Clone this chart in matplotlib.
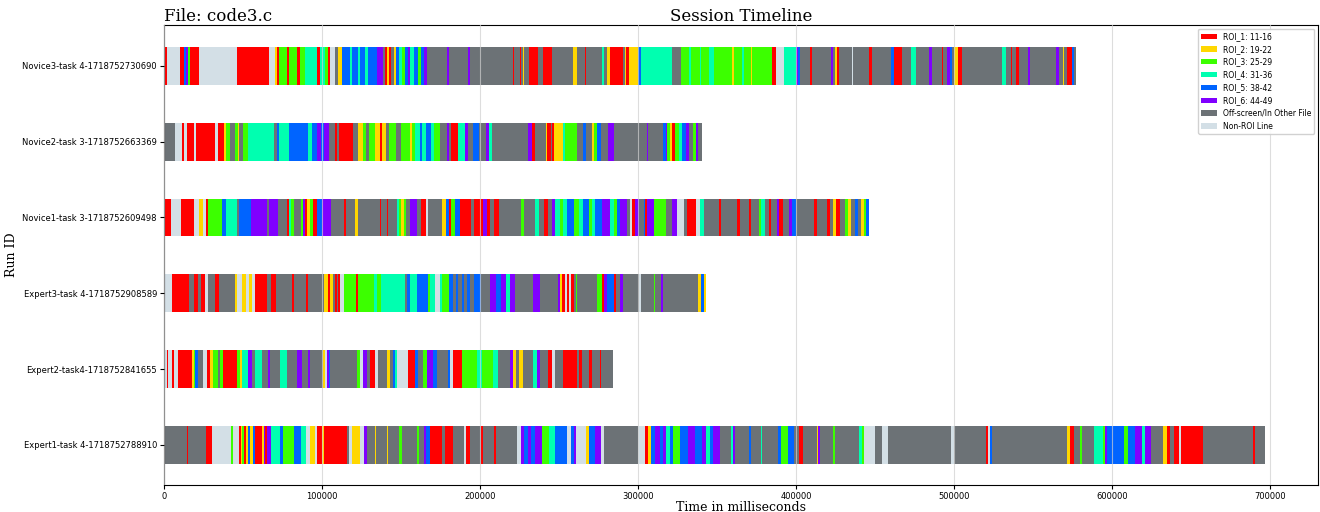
import matplotlib
matplotlib.use("Agg")
import matplotlib.pyplot as plt
from matplotlib.patches import Patch

# run ids, bottom to top
run_ids = ["Expert1-task 4-1718752788910", "Expert2-task4-1718752841655",
           "Expert3-task 4-1718752908589", "Novice1-task 3-1718752609498",
           "Novice2-task 3-1718752663369", "Novice3-task 4-1718752730690"]

roi_codes = ["R", "Y", "G", "C", "B", "P", "O", "N"]
roi_labels = ["ROI_1: 11-16", "ROI_2: 19-22", "ROI_3: 25-29", "ROI_4: 31-36",
              "ROI_5: 38-42", "ROI_6: 44-49", "Off-screen/In Other File", "Non-ROI Line"]
roi_colors = ["#ff0000", "#ffd700", "#3cff00", "#00ffb0",
              "#0064ff", "#8000ff", "#6c7276", "#d3dfe6"]

# each run: (end time in ms, region) -- segments follow each other from 0
novice3 = [(1900, 'R'), (10100, 'N'), (12600, 'R'), (13900, 'B'), (15200, 'P'), (16400, 'G'),
           (22100, 'R'), (46100, 'N'), (66400, 'R'), (70200, 'N'), (71400, 'Y'), (72700, 'R'),
           (77700, 'G'), (79000, 'R'), (84100, 'G'), (86000, 'R'), (89100, 'G'), (96700, 'C'),
           (98600, 'R'), (101800, 'C'), (103600, 'G'), (104900, 'R'), (108100, 'N'), (110000, 'O'),
           (112500, 'Y'), (117600, 'B'), (118800, 'C'), (122600, 'B'), (123900, 'C'), (127000, 'B'),
           (128900, 'C'), (134600, 'B'), (138400, 'P'), (139700, 'O'), (140900, 'R'), (142200, 'Y'),
           (143500, 'R'), (145400, 'O'), (146600, 'Y'), (148500, 'B'), (150400, 'C'), (152300, 'G'),
           (154200, 'B'), (155500, 'P'), (158000, 'C'), (160500, 'B'), (162400, 'G'), (164300, 'B'),
           (166200, 'P'), (178900, 'O'), (180100, 'P'), (192100, 'O'), (193400, 'P'), (220600, 'O'),
           (221200, 'R'), (225000, 'O'), (225600, 'R'), (226900, 'O'), (227500, 'Y'), (230700, 'O'),
           (236400, 'R'), (239500, 'O'), (245800, 'R'), (258500, 'O'), (261000, 'Y'), (266100, 'O'),
           (267300, 'R'), (277400, 'O'), (278100, 'C'), (280000, 'O'), (281900, 'Y'), (290100, 'R'),
           (291400, 'O'), (292600, 'Y'), (293900, 'R'), (299600, 'Y'), (301500, 'B'), (321100, 'C'),
           (327400, 'O'), (332400, 'G'), (333700, 'C'), (338800, 'G'), (340000, 'C'), (345100, 'G'),
           (348200, 'C'), (359600, 'G'), (360900, 'Y'), (365900, 'G'), (367200, 'C'), (371600, 'G'),
           (372200, 'Y'), (384900, 'G'), (387400, 'R'), (392500, 'N'), (400100, 'C'), (401300, 'P'),
           (402600, 'B'), (408900, 'O'), (410200, 'R'), (422200, 'O'), (423400, 'P'), (424700, 'O'),
           (426000, 'Y'), (427200, 'R'), (435400, 'O'), (436100, 'N'), (446200, 'O'), (448100, 'R'),
           (460100, 'O'), (462000, 'B'), (467000, 'R'), (472700, 'O'), (475900, 'C'), (484100, 'O'),
           (486000, 'P'), (492300, 'O'), (493000, 'R'), (495500, 'O'), (497400, 'P'), (498600, 'B'),
           (499900, 'O'), (502400, 'Y'), (505000, 'R'), (530200, 'O'), (532800, 'C'), (535900, 'O'),
           (536600, 'R'), (539100, 'O'), (541000, 'R'), (546700, 'O'), (547900, 'P'), (564400, 'O'),
           (566300, 'P'), (568800, 'O'), (569400, 'Y'), (571300, 'O'), (574500, 'R'), (575800, 'B'),
           (577000, 'O')]

novice2 = [(7000, 'O'), (11400, 'N'), (12600, 'R'), (14500, 'N'), (19000, 'R'), (20200, 'N'),
           (32200, 'R'), (34100, 'N'), (37900, 'R'), (39200, 'Y'), (41700, 'G'), (44900, 'O'),
           (46800, 'G'), (47400, 'Y'), (49900, 'O'), (53100, 'G'), (69500, 'C'), (71400, 'O'),
           (72700, 'B'), (79000, 'C'), (91000, 'B'), (93500, 'C'), (96700, 'B'), (99200, 'P'),
           (101100, 'B'), (104300, 'P'), (108100, 'O'), (109400, 'R'), (110600, 'O'), (119400, 'R'),
           (122600, 'O'), (125800, 'Y'), (127700, 'G'), (129600, 'O'), (133400, 'G'), (136500, 'Y'),
           (137800, 'R'), (140300, 'Y'), (142200, 'O'), (146600, 'G'), (149800, 'O'), (155500, 'G'),
           (156800, 'Y'), (158600, 'G'), (161800, 'C'), (163100, 'B'), (165600, 'C'), (168700, 'B'),
           (170700, 'C'), (174400, 'G'), (178900, 'O'), (180100, 'P'), (181400, 'O'), (185800, 'R'),
           (190200, 'C'), (192100, 'P'), (195300, 'O'), (199100, 'B'), (203500, 'O'), (205400, 'P'),
           (207300, 'C'), (230000, 'O'), (232600, 'P'), (234500, 'R'), (241400, 'O'), (242100, 'Y'),
           (244600, 'R'), (245300, 'O'), (246500, 'R'), (252200, 'Y'), (253500, 'C'), (261600, 'G'),
           (265400, 'O'), (267300, 'B'), (270500, 'O'), (271800, 'Y'), (273700, 'G'), (276200, 'B'),
           (280600, 'O'), (285000, 'P'), (305300, 'O'), (306500, 'P'), (316000, 'O'), (317300, 'B'),
           (318500, 'P'), (320400, 'G'), (321700, 'Y'), (323000, 'R'), (326100, 'G'), (328000, 'C'),
           (330500, 'B'), (332400, 'P'), (335000, 'O'), (336900, 'G'), (338100, 'P'), (340600, 'O')]

novice1 = [(4400, 'R'), (10700, 'N'), (19000, 'R'), (22100, 'N'), (24600, 'Y'), (26500, 'N'),
           (27800, 'R'), (36700, 'G'), (39200, 'B'), (46100, 'C'), (47400, 'O'), (55000, 'B'),
           (65100, 'P'), (66400, 'O'), (72000, 'P'), (77700, 'O'), (79000, 'R'), (80300, 'C'),
           (82200, 'G'), (86600, 'O'), (87800, 'G'), (89100, 'P'), (90400, 'R'), (92300, 'Y'),
           (94200, 'G'), (96700, 'R'), (99900, 'B'), (105500, 'P'), (113800, 'O'), (115000, 'R'),
           (120700, 'O'), (122600, 'Y'), (136500, 'O'), (137100, 'R'), (140900, 'O'), (141600, 'R'),
           (147300, 'O'), (148500, 'C'), (149800, 'G'), (151700, 'Y'), (152900, 'G'), (155500, 'O'),
           (159900, 'P'), (162400, 'O'), (165600, 'R'), (166800, 'N'), (175700, 'O'), (178200, 'Y'),
           (180100, 'B'), (181400, 'R'), (183900, 'G'), (187100, 'B'), (194000, 'R'), (195900, 'O'),
           (201600, 'R'), (204100, 'P'), (206000, 'R'), (208600, 'O'), (211700, 'R'), (225600, 'O'),
           (227500, 'G'), (234500, 'O'), (237000, 'C'), (240200, 'O'), (242700, 'R'), (245800, 'O'),
           (247700, 'P'), (250300, 'C'), (252200, 'G'), (254700, 'C'), (259100, 'B'), (262300, 'G'),
           (264800, 'C'), (268600, 'B'), (271100, 'G'), (273000, 'C'), (277400, 'B'), (281900, 'P'),
           (284400, 'C'), (286300, 'G'), (288200, 'B'), (293200, 'P'), (295100, 'O'), (296400, 'N'),
           (297700, 'R'), (300800, 'P'), (303400, 'O'), (304600, 'B'), (305900, 'R'), (310300, 'P'),
           (317900, 'G'), (321100, 'O'), (324800, 'P'), (329300, 'N'), (331200, 'O'), (336900, 'R'),
           (339400, 'N'), (341900, 'C'), (351400, 'O'), (352700, 'R'), (362800, 'O'), (364700, 'R'),
           (370400, 'O'), (371600, 'R'), (376700, 'O'), (377900, 'G'), (380500, 'C'), (383000, 'O'),
           (384300, 'R'), (388000, 'O'), (389300, 'P'), (391800, 'R'), (395600, 'O'), (397500, 'P'),
           (400100, 'B'), (411400, 'O'), (413300, 'R'), (419600, 'O'), (421500, 'R'), (423400, 'O'),
           (425300, 'Y'), (427900, 'R'), (431000, 'O'), (432900, 'G'), (434800, 'Y'), (437300, 'O'),
           (439200, 'B'), (441100, 'O'), (443000, 'Y'), (444300, 'G'), (446200, 'B')]

expert3 = [(5100, 'N'), (15800, 'R'), (19000, 'O'), (21500, 'R'), (23400, 'O'), (25900, 'R'),
           (27800, 'N'), (32200, 'O'), (34800, 'R'), (44900, 'O'), (46100, 'Y'), (49300, 'N'),
           (51800, 'Y'), (53700, 'N'), (55600, 'Y'), (57500, 'N'), (65100, 'R'), (67600, 'O'),
           (70800, 'R'), (80900, 'O'), (82200, 'R'), (89700, 'O'), (91000, 'R'), (101100, 'O'),
           (103600, 'Y'), (104900, 'R'), (106800, 'Y'), (108100, 'O'), (109300, 'R'), (110000, 'O'),
           (111200, 'R'), (113800, 'N'), (121300, 'G'), (122600, 'R'), (132700, 'G'), (134600, 'C'),
           (137100, 'G'), (152300, 'C'), (153600, 'O'), (155500, 'B'), (159900, 'C'), (166800, 'B'),
           (168100, 'G'), (171300, 'C'), (174400, 'N'), (175700, 'C'), (180100, 'G'), (182600, 'B'),
           (184500, 'O'), (185800, 'B'), (188300, 'O'), (189600, 'B'), (191500, 'O'), (193400, 'B'),
           (195900, 'O'), (200300, 'B'), (206000, 'O'), (209800, 'P'), (213000, 'B'), (216100, 'P'),
           (218700, 'C'), (221800, 'P'), (233200, 'O'), (237600, 'P'), (249000, 'O'), (250300, 'P'),
           (251500, 'Y'), (253400, 'R'), (254700, 'N'), (256000, 'R'), (257200, 'N'), (259100, 'R'),
           (260400, 'O'), (261000, 'G'), (273700, 'O'), (277400, 'G'), (278700, 'R'), (280000, 'P'),
           (284400, 'B'), (285700, 'R'), (288800, 'O'), (290100, 'P'), (300800, 'O'), (301500, 'N'),
           (310300, 'O'), (310900, 'G'), (314700, 'O'), (316000, 'P'), (338100, 'O'), (340000, 'Y'),
           (341900, 'B'), (343200, 'Y')]

expert2 = [(1900, 'N'), (2500, 'R'), (5100, 'N'), (6300, 'R'), (8800, 'N'), (17700, 'R'),
           (19000, 'Y'), (19600, 'G'), (21500, 'B'), (24600, 'O'), (27200, 'N'), (29100, 'R'),
           (30900, 'Y'), (34100, 'G'), (35400, 'O'), (37300, 'G'), (46100, 'R'), (48000, 'G'),
           (49300, 'Y'), (53100, 'C'), (55600, 'P'), (57500, 'O'), (61900, 'C'), (65700, 'O'),
           (67000, 'P'), (73300, 'O'), (77700, 'C'), (84100, 'O'), (87200, 'P'), (91000, 'O'),
           (92300, 'P'), (100500, 'O'), (101800, 'Y'), (103000, 'N'), (104300, 'P'), (104900, 'B'),
           (122000, 'O'), (123900, 'G'), (125800, 'N'), (128300, 'P'), (130200, 'O'), (133400, 'R'),
           (135300, 'N'), (140900, 'O'), (142800, 'Y'), (144700, 'O'), (146000, 'B'), (147300, 'C'),
           (154200, 'N'), (158600, 'R'), (160500, 'B'), (163700, 'O'), (166200, 'G'), (170000, 'P'),
           (172500, 'B'), (179500, 'O'), (180700, 'B'), (182600, 'N'), (188300, 'R'), (197800, 'G'),
           (201000, 'C'), (207900, 'G'), (211100, 'C'), (218700, 'O'), (220600, 'P'), (222500, 'Y'),
           (224400, 'O'), (226900, 'Y'), (233200, 'O'), (235700, 'C'), (237600, 'P'), (242700, 'O'),
           (245300, 'R'), (247200, 'N'), (252200, 'O'), (261000, 'R'), (262300, 'O'), (264200, 'R'),
           (269200, 'O'), (270500, 'R'), (275600, 'O'), (276200, 'R'), (283800, 'O')]

expert1 = [(600, 'G'), (14500, 'O'), (15200, 'R'), (26500, 'O'), (30300, 'R'), (42300, 'N'),
           (43600, 'G'), (47400, 'N'), (48700, 'R'), (49300, 'Y'), (50600, 'G'), (51800, 'R'),
           (53100, 'Y'), (54400, 'B'), (56200, 'Y'), (57500, 'B'), (61900, 'R'), (63200, 'Y'),
           (63800, 'P'), (65100, 'R'), (67600, 'P'), (73300, 'C'), (75200, 'B'), (82200, 'G'),
           (86600, 'B'), (89700, 'C'), (92300, 'N'), (95400, 'Y'), (96700, 'N'), (99900, 'R'),
           (101100, 'Y'), (115700, 'R'), (116900, 'O'), (118800, 'N'), (123900, 'Y'), (126400, 'N'),
           (128300, 'P'), (133400, 'O'), (134000, 'Y'), (140900, 'O'), (141600, 'Y'), (148500, 'O'),
           (150400, 'G'), (159900, 'O'), (161200, 'G'), (164300, 'O'), (165600, 'P'), (168100, 'B'),
           (175700, 'R'), (177600, 'O'), (182600, 'R'), (189600, 'O'), (190800, 'N'), (193400, 'R'),
           (200300, 'O'), (201600, 'R'), (208600, 'O'), (209800, 'R'), (223100, 'O'), (225600, 'N'),
           (227500, 'P'), (230000, 'B'), (231900, 'P'), (234500, 'B'), (238900, 'P'), (243900, 'G'),
           (247700, 'C'), (254700, 'B'), (257200, 'N'), (259100, 'B'), (260400, 'P'), (267300, 'N'),
           (269200, 'Y'), (272400, 'B'), (276200, 'P'), (278700, 'N'), (300200, 'O'), (304600, 'N'),
           (306500, 'R'), (308400, 'Y'), (310900, 'B'), (313500, 'P'), (316000, 'B'), (317900, 'P'),
           (320400, 'C'), (322300, 'B'), (326700, 'G'), (331800, 'B'), (336200, 'P'), (340600, 'B'),
           (343200, 'P'), (345700, 'C'), (347600, 'B'), (352000, 'P'), (359000, 'O'), (360300, 'C'),
           (361500, 'P'), (370400, 'O'), (371600, 'B'), (377900, 'O'), (378600, 'C'), (388700, 'O'),
           (390600, 'B'), (395000, 'G'), (398800, 'B'), (402000, 'O'), (404500, 'R'), (413300, 'O'),
           (413900, 'Y'), (415200, 'P'), (423400, 'O'), (424700, 'G'), (439900, 'O'), (441800, 'C'),
           (443000, 'G'), (450000, 'N'), (454400, 'O'), (458200, 'N'), (498000, 'O'), (499900, 'N'),
           (520100, 'O'), (521400, 'R'), (522700, 'N'), (523900, 'B'), (571300, 'O'), (573200, 'Y'),
           (575800, 'R'), (579600, 'O'), (580800, 'G'), (588400, 'O'), (594100, 'C'), (595400, 'G'),
           (596600, 'P'), (607400, 'B'), (609900, 'G'), (614300, 'B'), (618700, 'P'), (620600, 'C'),
           (624400, 'P'), (632000, 'O'), (634500, 'Y'), (636400, 'R'), (638900, 'O'), (642100, 'R'),
           (643400, 'N'), (657300, 'R'), (688900, 'O'), (690100, 'R'), (696400, 'O')]

runs = [expert1, expert2, expert3, novice1, novice2, novice3]
color_of = dict(zip(roi_codes, roi_colors))

fig = plt.figure(figsize=(13.2, 5.12), dpi=100)
ax = fig.add_axes([0.1242, 0.0527, 0.8742, 0.8985])

for i, run in enumerate(runs):
    spans, cols = [], []
    start = 0
    for end, code in run:
        spans.append((start, end - start))
        cols.append(color_of[code])
        start = end
    ax.broken_barh(spans, (i - 0.25, 0.5), facecolors=cols, linewidth=0)

ax.set_xlim(0, 730000)
ax.set_ylim(-0.53, 5.54)
ax.set_xticks(range(0, 700001, 100000))
ax.set_yticks(range(len(run_ids)))
ax.set_yticklabels(run_ids)
ax.tick_params(labelsize=6, length=3, pad=2)
ax.grid(axis='x', color='#cfcfcf', linewidth=0.8, alpha=0.7)
ax.set_axisbelow(False)

ax.set_xlabel("Time in milliseconds", family="DejaVu Serif", fontsize=9, labelpad=0)
ax.set_ylabel("Run ID", family="DejaVu Serif", fontsize=9, labelpad=3)
ax.set_title("Session Timeline", family="DejaVu Serif", fontsize=12, pad=3)
ax.set_title("File: code3.c", family="DejaVu Serif", fontsize=12, loc="left", pad=3)

handles = [Patch(facecolor=c, label=l) for c, l in zip(roi_colors, roi_labels)]
ax.legend(handles=handles, loc="upper right", fontsize=5.5, framealpha=0.9)

fig.savefig("out.png", dpi=100)
